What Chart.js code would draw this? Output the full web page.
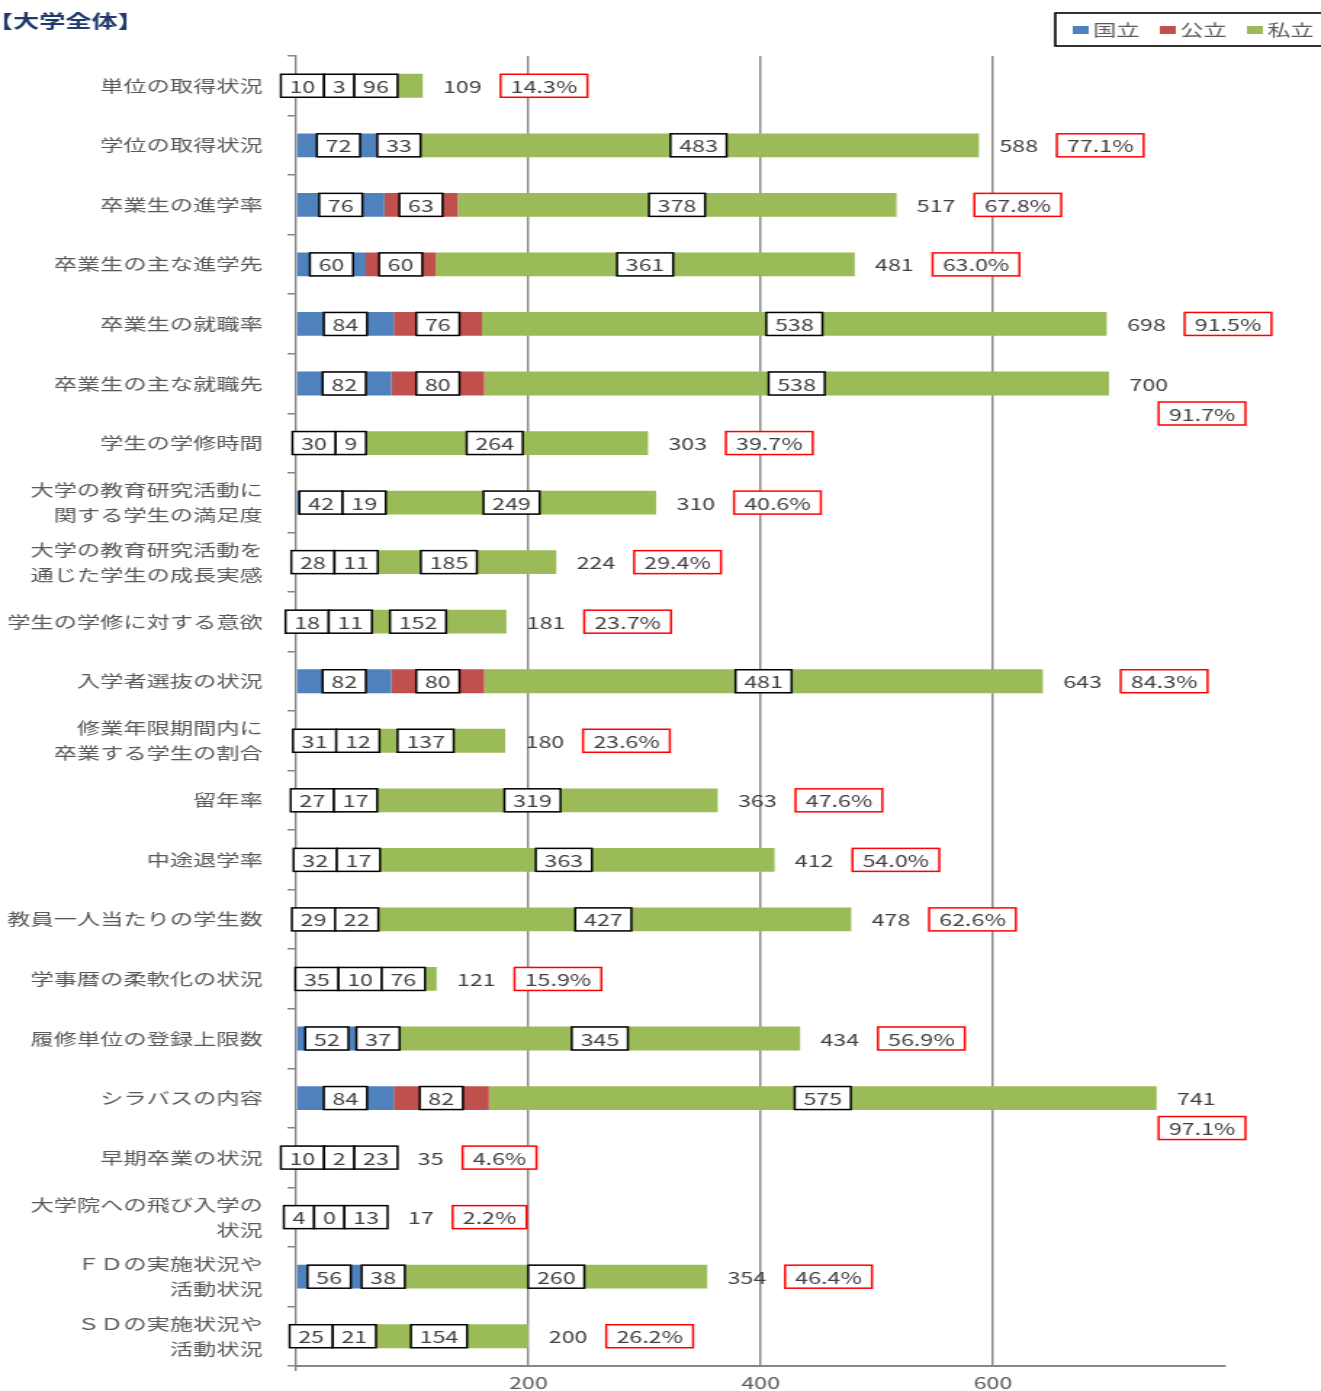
<!DOCTYPE html>
<html lang="ja">
<head>
<meta charset="utf-8">
<title>大学全体</title>
<script src="https://cdn.jsdelivr.net/npm/chart.js@4.4.1/dist/chart.umd.min.js"></script>
<style>
  html, body { margin: 0; padding: 0; background: #fff; overflow: hidden; }
  /* the source picture is stretched sideways, so the canvas is too */
  #wrap { width: 910px; height: 1391px; transform: scaleX(1.4516); transform-origin: 0 0; }
</style>
</head>
<body>
<div id="wrap"><canvas id="chart" width="910" height="1391"></canvas></div>
<script>
const categories = [
  '単位の取得状況',
  '学位の取得状況',
  '卒業生の進学率',
  '卒業生の主な進学先',
  '卒業生の就職率',
  '卒業生の主な就職先',
  '学生の学修時間',
  ['大学の教育研究活動に', '関する学生の満足度'],
  ['大学の教育研究活動を', '通じた学生の成長実感'],
  '学生の学修に対する意欲',
  '入学者選抜の状況',
  ['修業年限期間内に', '卒業する学生の割合'],
  '留年率',
  '中途退学率',
  '教員一人当たりの学生数',
  '学事暦の柔軟化の状況',
  '履修単位の登録上限数',
  'シラバスの内容',
  '早期卒業の状況',
  ['大学院への飛び入学の', '状況'],
  ['ＦＤの実施状況や', '活動状況'],
  ['ＳＤの実施状況や', '活動状況']
]
const kokuritsu = [10, 72, 76, 60, 84, 82, 30, 42, 28, 18, 82, 31, 27, 32, 29, 35, 52, 84, 10, 4, 56, 25]
const koritsu = [3, 33, 63, 60, 76, 80, 9, 19, 11, 11, 80, 12, 17, 17, 22, 10, 37, 82, 2, 0, 38, 21]
const shiritsu = [96, 483, 378, 361, 538, 538, 264, 249, 185, 152, 481, 137, 319, 363, 427, 76, 345, 575, 23, 13, 260, 154]
const shareLabels = ['14.3%', '77.1%', '67.8%', '63.0%', '91.5%', '91.7%', '39.7%', '40.6%', '29.4%', '23.7%', '84.3%',
  '23.6%', '47.6%', '54.0%', '62.6%', '15.9%', '56.9%', '97.1%', '4.6%', '2.2%', '46.4%', '26.2%']
const xTicks = [200, 400, 600]

const FONT = '"Noto Sans CJK JP", "Noto Sans", sans-serif'
const GRID = '#868686'
const TEXT = '#404040'
const LABEL = '#595959'

function boxAt(ctx, left, y, w, h, stroke) {
  ctx.fillStyle = '#fff'
  ctx.fillRect(left, y - h / 2, w, h)
  ctx.strokeStyle = stroke
  ctx.lineWidth = 1.5
  ctx.strokeRect(left, y - h / 2, w, h)
}

// value boxes on each segment, then total and share to the right
const barLabels = {
  id: 'barLabels',
  afterDatasetsDraw(chart) {
    const { ctx, chartArea } = chart
    const wrapPx = chart.scales.x.getPixelForValue(700)
    ctx.save()
    ctx.font = `16px ${FONT}`
    ctx.textBaseline = 'middle'
    categories.forEach((_, i) => {
      let prevRight = -Infinity
      let barEnd = chartArea.left
      let total = 0
      let y = 0
      chart.data.datasets.forEach((ds, d) => {
        const bar = chart.getDatasetMeta(d).data[i]
        const p = bar.getProps(['x', 'base', 'y', 'height'], true)
        const v = ds.data[i]
        total += v
        y = p.y
        barEnd = Math.max(barEnd, p.x)
        const txt = String(v)
        const w = ctx.measureText(txt).width + 12
        const left = Math.max((p.x + p.base) / 2 - w / 2, prevRight)
        boxAt(ctx, left, p.y, w, 23, '#000')
        ctx.fillStyle = TEXT
        ctx.textAlign = 'center'
        ctx.fillText(txt, left + w / 2, p.y + 1)
        prevRight = left + w
      })
      const totalTxt = String(total)
      const tLeft = Math.max(barEnd, prevRight) + 14
      ctx.textAlign = 'left'
      ctx.fillStyle = TEXT
      ctx.fillText(totalTxt, tLeft, y + 1)
      const tw = ctx.measureText(totalTxt).width
      const share = shareLabels[i]
      const pw = ctx.measureText(share).width + 14
      let pLeft = tLeft + tw + 13
      let pY = y
      if (barEnd >= wrapPx) {
        pLeft = chartArea.right + 14 - pw
        pY = y + 30
      }
      boxAt(ctx, pLeft, pY, pw, 23, '#ff0000')
      ctx.fillStyle = TEXT
      ctx.textAlign = 'center'
      ctx.fillText(share, pLeft + pw / 2, pY + 1)
    })
    ctx.restore()
  }
}

const titleLegend = {
  id: 'titleLegend',
  afterDraw(chart) {
    const { ctx } = chart
    ctx.save()
    ctx.font = `bold 18px ${FONT}`
    ctx.fillStyle = '#1f3a6b'
    ctx.textBaseline = 'middle'
    ctx.textAlign = 'left'
    ctx.fillText('【大学全体】', -9, 21)

    ctx.strokeStyle = '#000'
    ctx.lineWidth = 1.6
    ctx.strokeRect(727, 13, 220, 33)
    ctx.font = `16px ${FONT}`
    let x = 739
    chart.data.datasets.forEach(ds => {
      ctx.fillStyle = ds.backgroundColor
      ctx.fillRect(x, 26, 11, 8)
      ctx.fillStyle = LABEL
      ctx.fillText(ds.label, x + 14, 30)
      x += 14 + ctx.measureText(ds.label).width + 14
    })
    ctx.restore()
  }
}

new Chart(document.getElementById('chart'), {
  type: 'bar',
  data: {
    labels: categories,
    datasets: [
      { label: '国立', data: kokuritsu, backgroundColor: '#4f81bd' },
      { label: '公立', data: koritsu, backgroundColor: '#c0504d' },
      { label: '私立', data: shiritsu, backgroundColor: '#9bbb59' }
    ]
  },
  options: {
    indexAxis: 'y',
    responsive: false,
    animation: false,
    layout: { padding: { top: 56, right: 66, bottom: 0, left: 0 } },
    datasets: { bar: { barPercentage: 0.4, categoryPercentage: 1 } },
    plugins: {
      legend: { display: false },
      tooltip: { enabled: false }
    },
    scales: {
      x: {
        stacked: true,
        min: 0,
        max: 800,
        afterFit: s => { s.height = 25 },
        ticks: {
          stepSize: 200,
          padding: 4,
          color: LABEL,
          font: { family: FONT, size: 16, lineHeight: 1 },
          callback: v => xTicks.includes(v) ? v : ''
        },
        grid: {
          lineWidth: 1.4,
          color: c => (c.tick && xTicks.includes(c.tick.value)) ? GRID : 'rgba(0,0,0,0)',
          tickColor: c => (c.tick && c.tick.value === 0) ? GRID : 'rgba(0,0,0,0)',
          tickLength: 5
        },
        border: { color: GRID, width: 2 }
      },
      y: {
        stacked: true,
        afterFit: s => {
          s.width = 204
          s.paddingTop = 0
          s.paddingBottom = 0
        },
        ticks: {
          autoSkip: false,
          padding: 17,
          color: LABEL,
          font: { family: FONT, size: 16, lineHeight: 1.55 }
        },
        grid: { drawOnChartArea: false, tickLength: 6, color: GRID, lineWidth: 1.5 },
        border: { color: GRID, width: 1.4 }
      }
    }
  },
  plugins: [barLabels, titleLegend]
})
</script>
</body>
</html>
